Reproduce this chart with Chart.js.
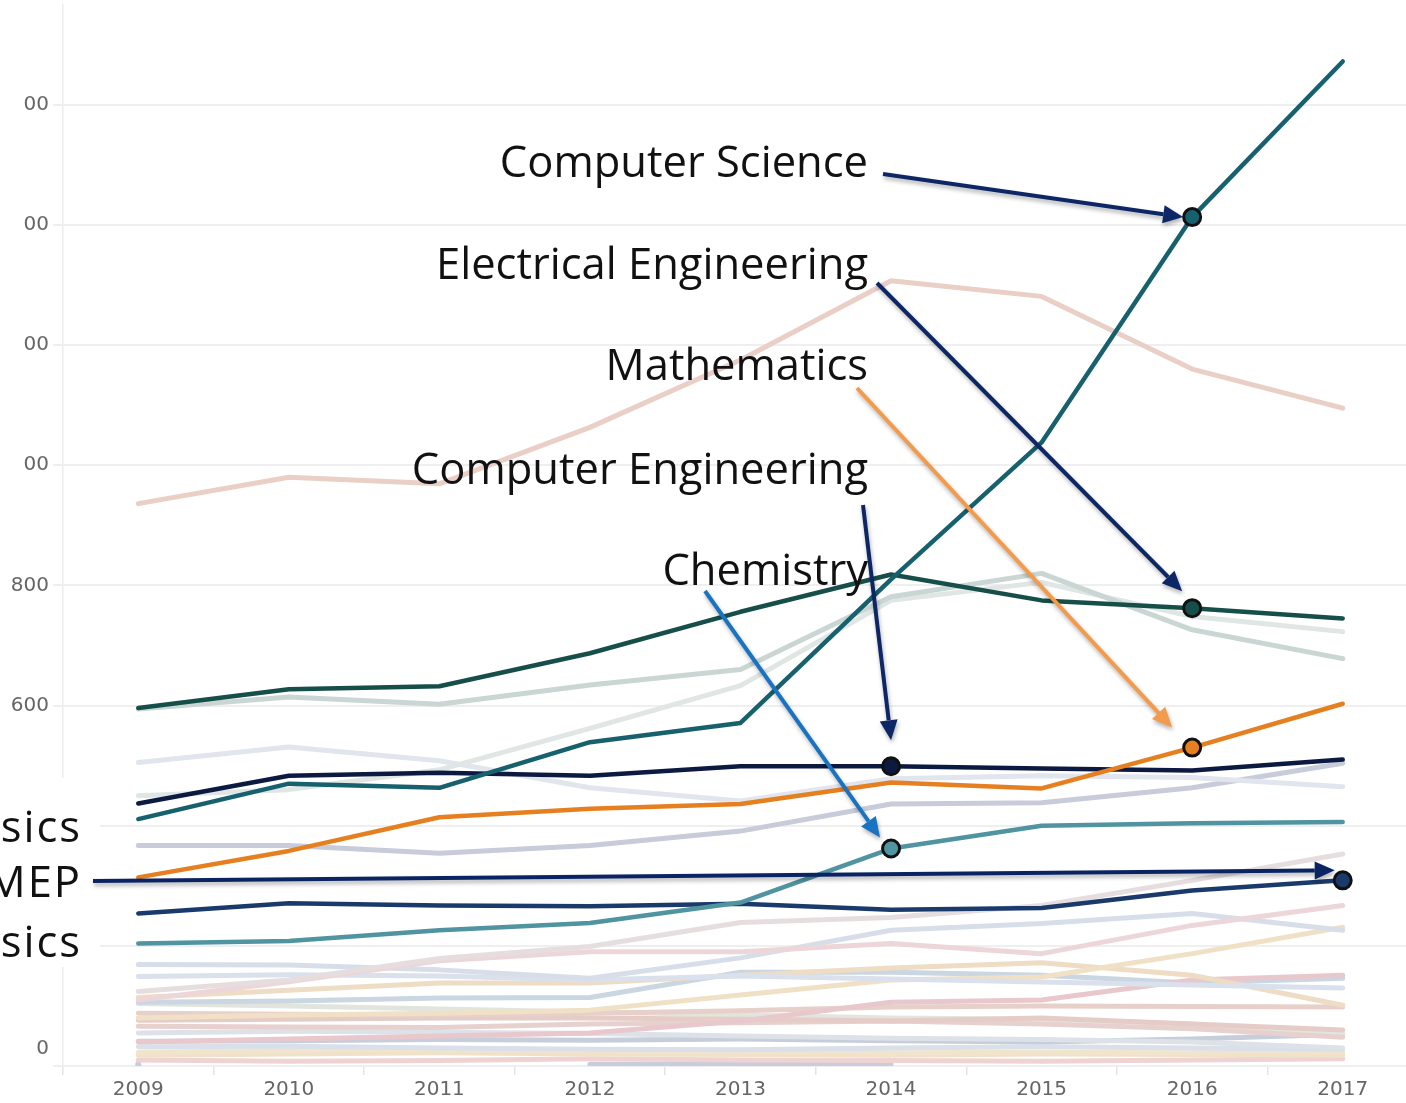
<!DOCTYPE html>
<html>
<head>
<meta charset="utf-8">
<script src="https://cdn.jsdelivr.net/npm/chart.js@4.4.1/dist/chart.umd.min.js"></script>
<style>
  html, body { margin: 0; padding: 0; background: #fff; overflow: hidden; }
  #wrap { width: 1420px; height: 1103px; position: relative; }
</style>
</head>
<body>
<div id="wrap"><canvas id="majors"></canvas></div>
<script>
// years and tick labels
var years = ['2009', '2010', '2011', '2012', '2013', '2014', '2015', '2016', '2017'];
var yTickValues = [0, 200, 400, 600, 800, 1000, 1200, 1400, 1600];
var yTickText = ['0', '200', '400', '600', '800', '00', '00', '00', '00'];

// highlighted majors
var computerScience = [411, 470, 463, 539, 571, 810, 1038, 1413, 1672];
var electricalEng   = [596, 627, 632, 687, 756, 818, 775, 762, 745];
var mathematics     = [314, 358, 414, 428, 436, 472, 462, 530, 603];
var computerEng     = [437, 483, 488, 483, 499, 499, 495, 492, 510];
var chemistry       = [204, 208, 226, 238, 272, 362, 400, 404, 406];
var mep             = [254, 271, 267, 266, 270, 260, 263, 292, 309];

// everything else (faded)
var otherA  = [936, 980, 969, 1063, 1175, 1307, 1281, 1160, 1095];
var otherB  = [594, 614, 602, 634, 660, 781, 820, 726, 678];
var otherC  = [450, 460, 493, 562, 633, 775, 805, 748, 723];
var otherD  = [505, 531, 508, 463, 441, 478, 483, 480, 465];
var otherE  = [367, 367, 354, 367, 391, 436, 438, 463, 504];
var otherF  = [124, 143, 179, 199, 239, 247, 267, 309, 353];
var otherG  = [110, 140, 175, 190, 190, 204, 187, 234, 267];
var otherH  = [169, 168, 160, 146, 180, 226, 237, 254, 226];
var otherI  = [149, 152, 150, 143, 150, 145, 140, 135, 130];
var otherJ  = [80, 85, 88, 93, 118, 143, 148, 187, 231];
var otherK  = [114, 126, 138, 138, 151, 163, 172, 151, 101];
var otherL  = [40, 45, 50, 55, 75, 106, 110, 143, 151];
var otherM  = [106, 108, 113, 114, 156, 156, 151, 138, 146];
var otherN  = [88, 86, 85, 88, 92, 98, 100, 99, 98];
var otherO  = [76, 78, 80, 80, 78, 75, 80, 70, 60];
var otherP  = [66, 65, 64, 70, 72, 75, 70, 62, 48];
var otherQ  = [104, 100, 95, 90, 85, 80, 78, 70, 53];
var otherR  = [55, 58, 56, 54, 50, 46, 44, 40, 30];
var otherS  = [41, 42, 44, 43, 45, 42, 40, 45, 53];
var otherT  = [32, 33, 30, 28, 27, 30, 32, 30, 28];
var otherU  = [23, 26, 28, 25, 24, 22, 23, 22, 23];
var otherV  = [18, 20, 22, 20, 19, 18, 20, 19, 18];
var otherW  = [10, 8, 9, 12, 10, 9, 8, 10, 12];
var otherX  = [3, null, null, 3, 3, 3, null, null, null];

var faded = [
  [otherA, '#e9cfc6'], [otherB, '#c9d6d4'], [otherC, '#dfe6e4'], [otherD, '#e0e5ee'],
  [otherE, '#c7cbda'], [otherF, '#e6dede'], [otherG, '#edd6d9'], [otherH, '#d7dee9'],
  [otherI, '#dae0ec'], [otherJ, '#f0e1c6'], [otherK, '#eedcc4'], [otherL, '#e8c8cc'],
  [otherM, '#cad6e2'], [otherN, '#e8d0ca'], [otherO, '#e6ccc7'], [otherP, '#e7d1cf'],
  [otherQ, '#e2e5dd'], [otherR, '#dde2e8'], [otherS, '#c6cddb'], [otherT, '#d9e0ea'],
  [otherU, '#f1e4cc'], [otherV, '#f0e2c8'], [otherW, '#efd3d3'], [otherX, '#c8ccdb']
];

var highlighted = [
  { label: 'Computer Science', data: computerScience, color: '#17606e', mark: 7 },
  { label: 'Electrical Engineering', data: electricalEng, color: '#164f49', mark: 7 },
  { label: 'Mathematics', data: mathematics, color: '#e67f1f', mark: 7 },
  { label: 'Computer Engineering', data: computerEng, color: '#0c1940', mark: 5 },
  { label: 'Chemistry', data: chemistry, color: '#4f94a0', mark: 5 },
  { label: 'MEP', data: mep, color: '#1b3a6c', mark: 8 }
];

var datasets = [];
highlighted.forEach(function(s) {
  datasets.push({
    label: s.label,
    data: s.data,
    borderColor: s.color,
    backgroundColor: s.color,
    borderWidth: 4.5,
    order: 0,
    pointRadius: function(c) { return c.dataIndex === s.mark ? 8.5 : 0; },
    pointBorderWidth: 3,
    pointBorderColor: '#111',
    pointBackgroundColor: s.color
  });
});
faded.forEach(function(f, i) {
  datasets.push({
    label: 'other ' + i,
    data: f[0],
    borderColor: f[1],
    backgroundColor: f[1],
    borderWidth: 5,
    order: 1,
    pointRadius: function(c) { return (f[0] === otherX && c.dataIndex === 0) ? 3 : 0; },
    pointBorderWidth: 0
  });
});

function arrow(c, x1, y1, x2, y2, color) {
  var ang = Math.atan2(y2 - y1, x2 - x1);
  var head = 20, half = 9;
  var bx = x2 - head * Math.cos(ang), by = y2 - head * Math.sin(ang);
  c.save();
  c.shadowColor = 'rgba(0,0,0,0.3)';
  c.shadowBlur = 4;
  c.shadowOffsetX = 1;
  c.shadowOffsetY = 3;
  c.strokeStyle = color;
  c.fillStyle = color;
  c.lineWidth = 4;
  c.beginPath(); c.moveTo(x1, y1); c.lineTo(bx, by); c.stroke();
  c.beginPath(); c.moveTo(x2, y2);
  c.lineTo(bx + half * Math.sin(ang), by - half * Math.cos(ang));
  c.lineTo(bx - half * Math.sin(ang), by + half * Math.cos(ang));
  c.closePath(); c.fill();
  c.restore();
}

// callouts: text, where it sits, where the arrow starts, and the marked point
var notes = [
  { text: 'Computer Science', tx: 868, ty: 165, sx: 883, sy: 174, ds: 0, dx: -9, dy: 0, color: '#0d2766' },
  { text: 'Electrical Engineering', tx: 868, ty: 267, sx: 877, sy: 283, ds: 1, dx: -10, dy: -17, color: '#0d2766' },
  { text: 'Mathematics', tx: 868, ty: 368, sx: 857, sy: 388, ds: 2, dx: -20, dy: -20, color: '#f39a4b' },
  { text: 'Computer Engineering', tx: 868, ty: 472, sx: 863, sy: 505, ds: 3, dx: 0, dy: -26, color: '#0d2766' },
  { text: 'Chemistry', tx: 868, ty: 573, sx: 705, sy: 591, ds: 4, dx: -11, dy: -11, color: '#1a72c2' }
];

var notePlugin = {
  id: 'notes',
  afterDatasetsDraw: function(chart) {
    var c = chart.ctx;
    c.save();
    c.font = '43.5px "Open Sans"';
    c.fillStyle = '#111';
    c.textAlign = 'right';
    c.textBaseline = 'middle';
    notes.forEach(function(n) { c.fillText(n.text, n.tx, n.ty); });

    // left block, partly off the edge
    c.fillStyle = '#fff';
    c.fillRect(0, 778, 100, 189);
    c.fillStyle = '#111';
    c.letterSpacing = '2px';
    c.fillText('Physics', 82, 830);
    c.fillText('MEP', 82, 885);
    c.fillText('Applied Physics', 82, 945);
    c.restore();

    notes.forEach(function(n) {
      var p = chart.getDatasetMeta(n.ds).data[highlighted[n.ds].mark];
      arrow(c, n.sx, n.sy, p.x + n.dx, p.y + n.dy, n.color);
    });
    var m = chart.getDatasetMeta(5).data[highlighted[5].mark];
    arrow(c, 93, 881, m.x - 8, m.y - 10, '#0a2463');

    // bottom tick label sits above its gridline
    var ys = chart.scales.y;
    c.save();
    c.font = '20px "DejaVu Sans"';
    c.fillStyle = '#666';
    c.textAlign = 'right';
    c.textBaseline = 'middle';
    c.fillText(yTickText[0], 49, ys.getPixelForValue(0) - 17);
    c.restore();
  }
};

var chart = new Chart(document.getElementById('majors').getContext('2d'), {
  type: 'line',
  data: { labels: years, datasets: datasets },
  options: {
    responsive: true,
    maintainAspectRatio: false,
    animation: false,
    events: [],
    layout: { autoPadding: false, padding: { top: 5, right: 2, left: 0, bottom: 0 } },
    elements: {
      line: { tension: 0, borderCapStyle: 'round', borderJoinStyle: 'round' }
    },
    plugins: { legend: { display: false }, tooltip: { enabled: false } },
    scales: {
      x: {
        offset: true,
        grid: { offset: true, drawOnChartArea: false, tickLength: 9, color: '#e4e4e4', lineWidth: 1.5 },
        border: { display: false },
        ticks: { font: { family: 'DejaVu Sans', size: 20 }, color: '#666', padding: 3 },
        afterFit: function(s) { s.height = 37; s.paddingLeft = 0; s.paddingRight = 0; }
      },
      y: {
        min: 0,
        max: 1766,
        afterBuildTicks: function(s) { s.ticks = yTickValues.map(function(v) { return { value: v }; }); },
        grid: { color: '#efefef', lineWidth: 2, tickLength: 10 },
        border: { display: true, color: '#ececec', width: 1.5 },
        ticks: {
          font: { family: 'DejaVu Sans', size: 20 },
          color: '#666',
          padding: 4,
          callback: function(v, i) { return i === 0 ? '' : yTickText[i]; }
        },
        afterFit: function(s) { s.width = 63; s.paddingTop = 0; s.paddingBottom = 0; }
      }
    }
  },
  plugins: [notePlugin]
});
</script>
</body>
</html>
